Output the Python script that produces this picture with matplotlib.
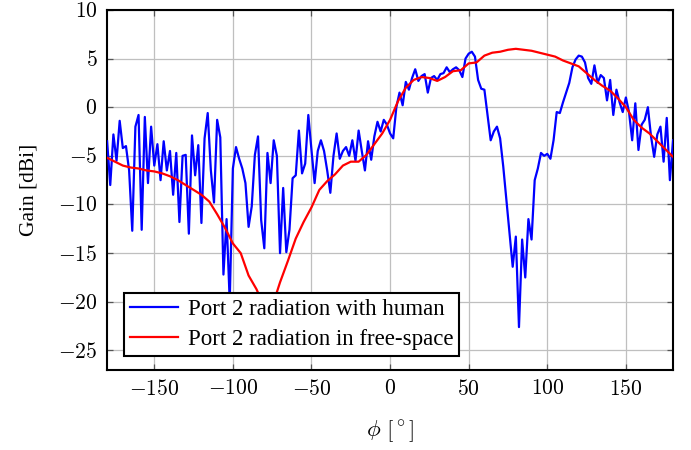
import numpy as np
import matplotlib
matplotlib.use("Agg")
import matplotlib.pyplot as plt
from matplotlib.ticker import FuncFormatter, MultipleLocator

# ---- data ----
phi_human = np.arange(-180, 181, 2)
gain_human = [
    -3.5, -8.0, -2.8, -5.5, -1.4, -4.2, -4.0, -6.5, -12.7, -2.0, -0.8, -12.6, -1.0, -7.8, -2.0, -6.0,
    -3.8, -7.5, -3.5, -6.5, -4.5, -9.0,
    -4.7, -11.8, -5.0, -4.9, -13.0, -2.9, -7.0, -3.9, -11.9, -3.2, -0.6, -6.5, -9.8, -1.3, -3.1,
    -17.2, -11.5, -20.0, -6.3, -4.1, -5.3, -6.3, -7.8, -12.3,
    -10.2, -4.9, -3.0, -11.6, -14.5, -4.7, -7.8, -3.4, -5.0, -15.0, -8.3, -14.9, -12.6, -7.3, -7.0,
    -2.4, -6.8, -5.8, -0.8, -4.4, -7.8, -4.5, -3.4, -4.5, -6.5, -8.8, -5.0, -2.7, -5.3, -4.5, -4.1,
    -5.0, -3.4, -5.5, -2.4, -4.5, -6.5, -3.5, -5.4, -3.0, -1.5, -2.5, -1.3, -1.8, -2.7,
    -3.2, 0.0, 1.5, 0.2, 2.6, 1.8, 3.0, 3.9, 2.7, 3.2, 3.4, 1.5, 3.0, 3.2, 2.8, 3.4, 3.5, 4.1, 3.6,
    3.9, 4.1, 3.8, 3.1, 5.0, 5.5, 5.7, 5.2, 2.8, 1.9, 1.8,
    -0.8, -3.4, -2.5, -2.0, -3.2, -6.1, -9.5, -12.9, -16.4, -13.3, -22.6, -13.6, -17.5, -11.5, -13.6,
    -7.5, -6.3, -4.7, -5.0, -4.8, -5.3, -3.4, -0.5, -0.6, 0.5, 1.5, 2.5, 4.1, 4.9, 5.3,
    5.2, 4.6, 3.0, 2.4, 4.3, 2.5, 3.3, 3.0, 0.7, 2.8, -0.8, 1.8, 0.5, -0.5, 1.0, -0.5, -3.4, 0.4,
    -4.4, -1.8, -1.3, 0.0, -3.0, -5.1, -2.8, -2.0, -5.6, -1.1, -7.5, -3.4,
]

phi_free = np.arange(-180, 181, 5)
gain_free = [
    -5.2, -5.6, -6.0, -6.2, -6.3, -6.5, -6.6, -6.8, -7.1, -7.5, -8.0, -8.5, -9.0, -9.7, -11.0,
    -12.4, -14.0, -15.0, -17.3, -18.7, -20.5, -20.5, -18.0, -15.8, -13.5, -11.8, -10.3, -8.5,
    -7.6, -6.9, -6.0, -5.6, -5.6, -4.9, -3.8, -2.7, -1.3, 0.6, 2.0, 2.8, 3.1, 3.0, 2.7, 3.1,
    3.7, 3.8, 4.5, 4.6, 5.3, 5.6, 5.7, 5.9, 6.0, 5.9, 5.8, 5.6, 5.4, 5.2, 4.8, 4.5, 4.2, 3.5,
    2.8, 2.2, 1.7, 0.9, 0.0, -1.3, -2.1, -2.7, -3.5, -4.3, -5.1,
]

label_human = "Port 2 radiation with human"
label_free = "Port 2 radiation in free-space"
x_label = r"$\phi\ [^\circ]$"
y_label = "Gain [dBi]"

# ---- style ----
plt.rcParams["mathtext.fontset"] = "cm"
plt.rcParams["font.family"] = ["Liberation Serif", "DejaVu Serif"]

fig = plt.figure(figsize=(6.91, 4.50), dpi=100)
ax = fig.add_axes([0.155, 0.178, 0.819, 0.800])

ax.plot(phi_human, gain_human, color=(0, 0, 1), lw=1.6, label=label_human, zorder=3)
ax.plot(phi_free, gain_free, color=(1, 0, 0), lw=1.6, label=label_free, zorder=4)

ax.set_xlim(-180, 180)
ax.set_ylim(-27, 10)
ax.xaxis.set_major_locator(MultipleLocator(50))
ax.yaxis.set_major_locator(MultipleLocator(5))
fmt = FuncFormatter(lambda v, p: r"$%d$" % round(v))
ax.xaxis.set_major_formatter(fmt)
ax.yaxis.set_major_formatter(fmt)

ax.grid(True, color="#bfbfbf", lw=0.9, zorder=0)
ax.set_axisbelow(True)
ax.tick_params(direction="in", top=True, right=True, length=4, width=0.9,
               color="#555555", labelsize=15.5, pad=7)
for s in ax.spines.values():
    s.set_linewidth(1.5)
    s.set_color("black")

ax.set_xlabel(x_label, fontsize=16.5, labelpad=13)
ax.set_ylabel(y_label, fontsize=15.5, labelpad=14)

leg = ax.legend(loc="lower left", bbox_to_anchor=(0.03, 0.039), fontsize=16.5,
                frameon=True, fancybox=False, edgecolor="black", framealpha=1,
                handlelength=2.1, borderpad=0.27, labelspacing=0.38, handletextpad=0.4,
                borderaxespad=0)
leg.get_frame().set_linewidth(1.5)
leg.set_zorder(10)

fig.savefig("out.png", dpi=100)
